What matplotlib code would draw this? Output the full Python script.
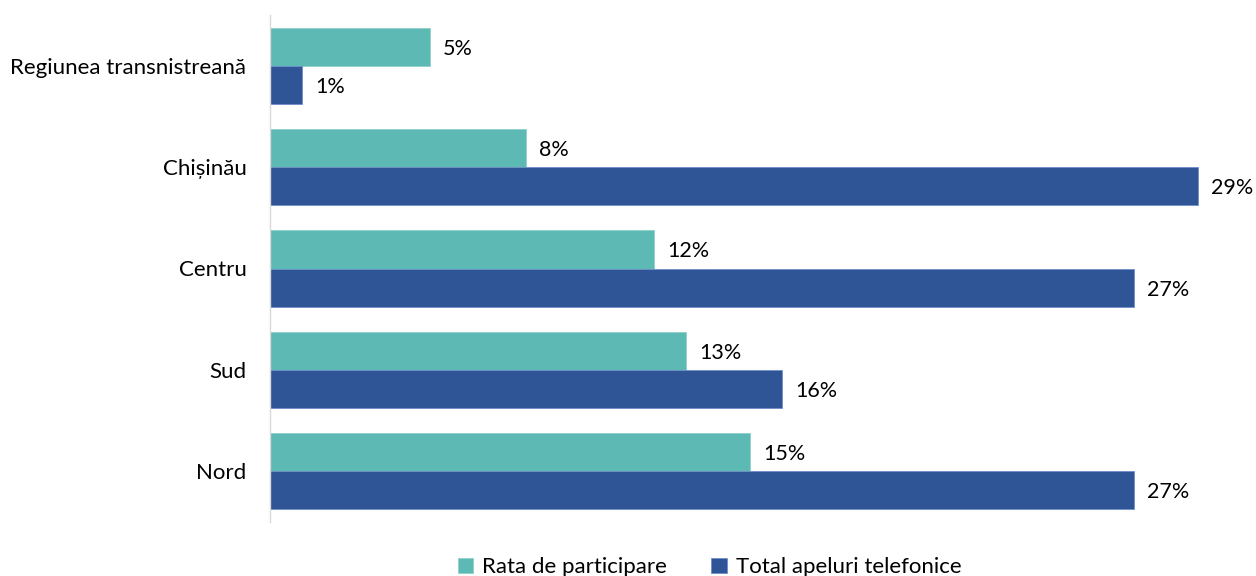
import matplotlib
matplotlib.use("Agg")
import matplotlib.pyplot as plt
import numpy as np

categories = ["Regiunea transnistreană", "Chișinău", "Centru", "Sud", "Nord"]
rata = [5, 8, 12, 13, 15]
total = [1, 29, 27, 16, 27]
series_names = ["Rata de participare", "Total apeluri telefonice"]
colors = ["#5DB9B4", "#2F5597"]

plt.rcParams['font.family'] = ['Lato', 'DejaVu Sans']

fig = plt.figure(figsize=(12.56, 5.76), dpi=100)
ax = fig.add_axes([270/1256, 1-521.5/576, 960/1256, (521.5-15.5)/576])

y = np.arange(len(categories))
h = 0.376
b1 = ax.barh(y - h/2, rata, height=h, color=colors[0], label=series_names[0],
             edgecolor="#8FD0CB", linewidth=0.6)
b2 = ax.barh(y + h/2, total, height=h, color=colors[1], label=series_names[1],
             edgecolor="#6F8FC8", linewidth=0.6)

for bars, vals in ((b1, rata), (b2, total)):
    for bar, v in zip(bars, vals):
        ax.text(bar.get_width() + 0.4, bar.get_y() + bar.get_height()/2 + 0.02,
                f"{v}%", va="center", ha="left", fontsize=15.5, color="black",
                clip_on=False)

ax.set_xlim(0, 30)
ax.set_ylim(len(categories) - 0.5, -0.5)
ax.set_yticks(y)
ax.set_yticklabels(categories, fontsize=16)
ax.tick_params(axis='y', length=0, pad=17)
ax.set_xticks([])
for s in ("top", "right", "bottom"):
    ax.spines[s].set_visible(False)
ax.spines["left"].set_color("#D9D9D9")
ax.spines["left"].set_linewidth(1)

fig.legend(handles=[b1, b2], labels=series_names, loc="center",
           bbox_to_anchor=(0.565, 0.015), ncol=2, frameon=False, fontsize=16,
           handlelength=0.7, handleheight=0.7, handletextpad=0.4,
           columnspacing=2.0)

fig.savefig("out.png", dpi=100)
